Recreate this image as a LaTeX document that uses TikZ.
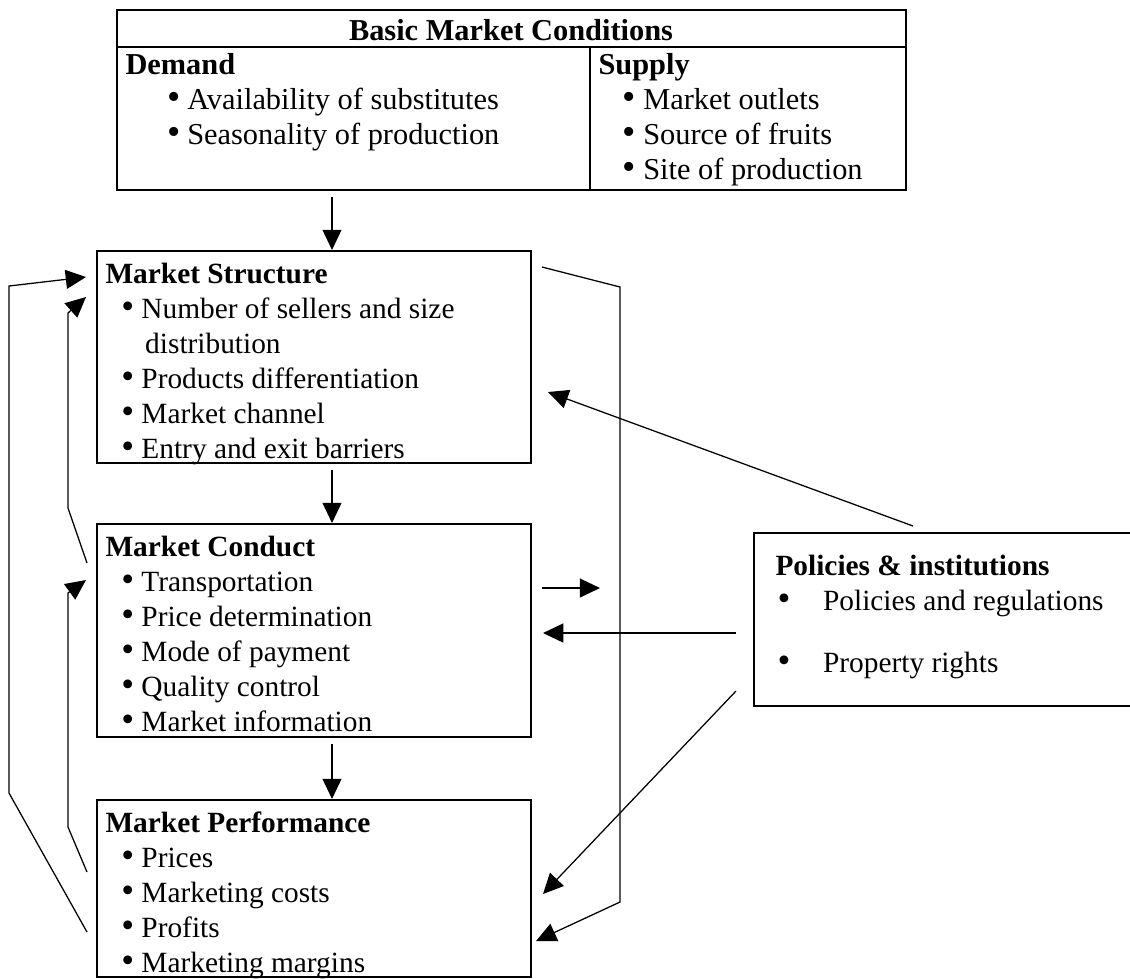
\documentclass[tikz,border=0pt]{standalone}
\usepackage{fontspec}
\usepackage{graphicx}
\setmainfont{Liberation Serif}
\usetikzlibrary{arrows.meta,fit}
\newcommand{\bigbul}{\smash{\scalebox{1.25}{\textbullet}}}
\newcommand{\bul}[2]{\hspace*{#1}\makebox[#2][l]{\bigbul}}
\newcommand{\st}{\rule{0pt}{10pt}}
\begin{document}
\begin{tikzpicture}[x=0.013885cm,y=-0.013885cm,
  box/.style={draw,line width=0.8pt,inner sep=0pt},
  txt/.style={anchor=north west,inner sep=0pt,align=left,font=\fontsize{11.6pt}{13.8pt}\selectfont},
  toptxt/.style={anchor=north west,inner sep=0pt,align=left,font=\fontsize{12pt}{13.8pt}\selectfont},
  conn/.style={line width=0.5pt},
  arr/.style={conn,-{Triangle[length=8pt,width=7.5pt]}}]
\useasboundingbox (0,0) rectangle (1130,978);

% boxes
\node[box,fit={(117,10)(906,190)}] (bmc) {};
\node[box,fit={(97,251)(531,463)}] (ms) {};
\node[box,fit={(97,524)(531,737)}] (mc) {};
\node[box,fit={(97,800)(531,977)}] (mp) {};
\node[box,fit={(754,533)(1140,706)}] (pi) {};
\coordinate (hl) at (117,47);
\coordinate (hr) at (906,47);
\coordinate (cd) at (590,47);
\draw[line width=0.8pt] (hl) -- (hr);
\draw[line width=0.8pt] (cd) -- (cd |- bmc.south);

% texts
\node[anchor=base,inner sep=0pt,font=\fontsize{12pt}{13.8pt}\selectfont\bfseries] (tbmc) at (511,40) {Basic Market Conditions};
\node[toptxt] (tdem) at (125,48.6) {\st\textbf{Demand}\\
  \bul{16.5pt}{7.9pt}Availability of substitutes\\
  \bul{16.5pt}{7.9pt}Seasonality of production};
\node[toptxt] (tsup) at (598,48.6) {\st\textbf{Supply}\\
  \bul{9.4pt}{8.3pt}Market outlets\\
  \bul{9.4pt}{8.3pt}Source of fruits\\
  \bul{9.4pt}{8.3pt}Site of production};
\node[txt] (tms) at (105,257.6) {\st\textbf{Market Structure}\\
  \bul{6.3pt}{7.9pt}Number of sellers and size\\
  \hspace*{15.7pt}distribution\\
  \bul{6.3pt}{7.9pt}Products differentiation\\
  \bul{6.3pt}{7.9pt}Market channel\\
  \bul{6.3pt}{7.9pt}Entry and exit barriers};
\node[txt] (tmc) at (105,530.6) {\st\textbf{Market Conduct}\\
  \bul{6.3pt}{7.9pt}Transportation\\
  \bul{6.3pt}{7.9pt}Price determination\\
  \bul{6.3pt}{7.9pt}Mode of payment\\
  \bul{6.3pt}{7.9pt}Quality control\\
  \bul{6.3pt}{7.9pt}Market information};
\node[txt] (tmp) at (105,806.6) {\st\textbf{Market Performance}\\
  \bul{6.3pt}{7.9pt}Prices\\
  \bul{6.3pt}{7.9pt}Marketing costs\\
  \bul{6.3pt}{7.9pt}Profits\\
  \bul{6.3pt}{7.9pt}Marketing margins};
\node[txt] (tpi) at (775,549.6) {\st\textbf{Policies \& institutions}\\
  \bul{0.8pt}{18pt}Policies and regulations\\[10.6pt]
  \bul{0.8pt}{18pt}Property rights};

% vertical down arrows
\coordinate (d1) at (332,197);
\coordinate (d2) at (332,470);
\coordinate (d3) at (332,744);
\draw[arr] (d1) -- (d1 |- ms.north);
\draw[arr] (d2) -- (d2 |- mc.north);
\draw[arr] (d3) -- (d3 |- mp.north);

% left feedback arrows
\coordinate (o1) at (87,932); \coordinate (o2) at (9,793);
\coordinate (o3) at (9,286);  \coordinate (o4) at (86,277);
\draw[arr] (o1) -- (o2) -- (o3) -- (o4);
\coordinate (s1) at (87,563); \coordinate (s2) at (68,508);
\coordinate (s3) at (68,313); \coordinate (s4) at (86,297);
\draw[arr] (s1) -- (s2) -- (s3) -- (s4);
\coordinate (t1) at (87,872); \coordinate (t2) at (68,827);
\coordinate (t3) at (68,593); \coordinate (t4) at (86,580);
\draw[arr] (t1) -- (t2) -- (t3) -- (t4);

% right side
\coordinate (r1) at (542,267); \coordinate (r2) at (620,287);
\coordinate (r3) at (620,902); \coordinate (r4) at (536,941);
\draw[arr] (r1) -- (r2) -- (r3) -- (r4);
\coordinate (p1) at (913,526); \coordinate (p2) at (548,392);
\draw[arr] (p1) -- (p2);
\coordinate (h1) at (542,588); \coordinate (h2) at (600,588);
\draw[arr] (h1) -- (h2);
\coordinate (q1) at (736,633); \coordinate (q2) at (543,633);
\draw[arr] (q1) -- (q2);
\coordinate (w1) at (736,691); \coordinate (w2) at (543,894);
\draw[arr] (w1) -- (w2);
\end{tikzpicture}
\end{document}
